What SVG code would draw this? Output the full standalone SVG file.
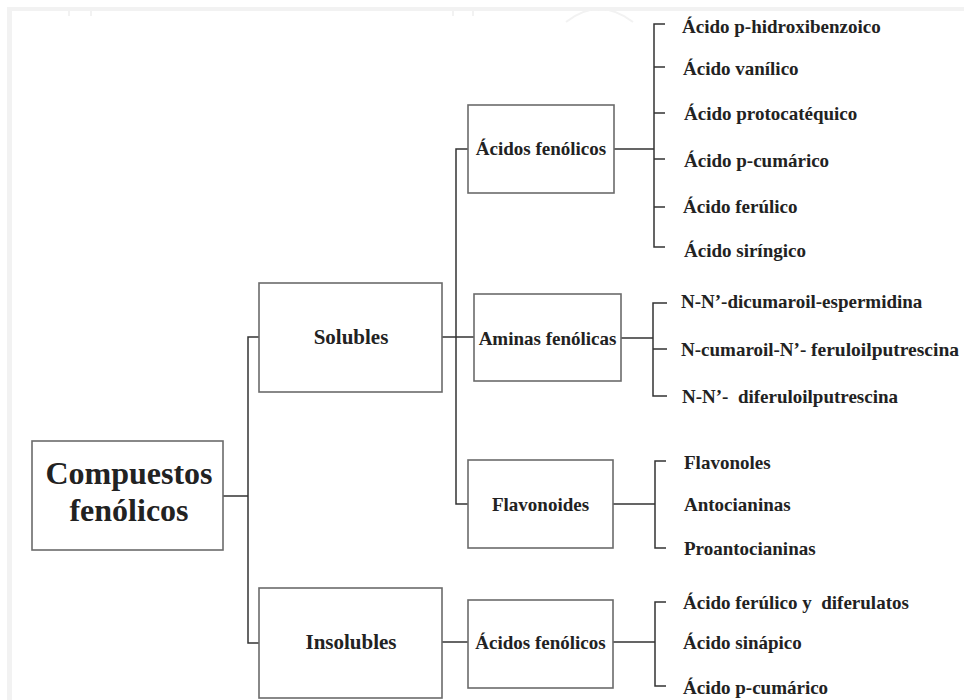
<svg xmlns="http://www.w3.org/2000/svg" width="964" height="700" viewBox="0 0 964 700">
  <style>
    .box { fill: #ffffff; stroke: #6b6b6b; stroke-width: 1.6; }
    .conn { fill: none; stroke: #333333; stroke-width: 1.5; }
    .t { font-family: "Liberation Serif", "Times New Roman", serif; font-weight: bold; fill: #222222; font-size: 19px; white-space: pre; }
    .c { text-anchor: middle; }
    .big { font-size: 32px; }
    .mid { font-size: 21px; }
    .wide { font-size: 19.5px; }
    .faint { fill: #f2f2f2; }
    .faintline { fill: none; stroke: #f2f2f2; stroke-width: 2; }
  </style>
  <rect x="0" y="0" width="964" height="700" fill="#ffffff"/>
  <g id="frame">
    <rect class="faint" x="7" y="7" width="957" height="4"/>
    <rect class="faint" x="7" y="7" width="5" height="693"/>
    <rect class="faint" x="68" y="11" width="2" height="5"/>
    <rect class="faint" x="90" y="11" width="2" height="5"/>
    <rect class="faint" x="452" y="11" width="2" height="5"/>
    <rect class="faint" x="472" y="11" width="2" height="5"/>
    <path class="faintline" d="M566,22 Q599,-4 633,22"/>
  </g>

  <g id="connectors">
    <!-- root to level 1 -->
    <path class="conn" d="M223,496 H248 M259,337 H248 V643 H259"/>
    <!-- Solubles to level 2 -->
    <path class="conn" d="M442,337 H474 M468,149 H456 V504 H468"/>
    <!-- Insolubles to Acidos -->
    <path class="conn" d="M442,642 H468"/>
    <!-- Acidos fenolicos children -->
    <path class="conn" d="M614,149 H654 M665,24 H654 V247 H665 M654,67 H665 M654,113 H665 M654,159 H665 M654,207 H665"/>
    <!-- Aminas children -->
    <path class="conn" d="M621,338 H653 M667,303 H653 V396 H667 M653,349 H667"/>
    <!-- Flavonoides children -->
    <path class="conn" d="M613,504 H655 M666,461 H655 V548 H666"/>
    <!-- Insoluble acidos children -->
    <path class="conn" d="M613,642 H655 M666,602 H655 V686 H666"/>
  </g>

  <g id="n-compuestos">
    <rect class="box" x="32" y="441" width="191" height="109"/>
    <text class="t c big" x="129" y="484">Compuestos</text>
    <text class="t c big" x="129" y="521">fenólicos</text>
  </g>
  <g id="n-solubles">
    <rect class="box" x="259" y="283" width="183" height="109"/>
    <text class="t c mid" x="351" y="344">Solubles</text>
  </g>
  <g id="n-insolubles">
    <rect class="box" x="259" y="588" width="183" height="110"/>
    <text class="t c mid" x="351" y="649">Insolubles</text>
  </g>
  <g id="n-acidos-sol">
    <rect class="box" x="468" y="105" width="146" height="88"/>
    <text class="t c" x="541" y="155">Ácidos fenólicos</text>
  </g>
  <g id="n-aminas">
    <rect class="box" x="474" y="294" width="147" height="87"/>
    <text class="t c" x="547.5" y="345">Aminas fenólicas</text>
  </g>
  <g id="n-flavonoides">
    <rect class="box" x="468" y="460" width="145" height="88"/>
    <text class="t c" x="540.5" y="511">Flavonoides</text>
  </g>
  <g id="n-acidos-insol">
    <rect class="box" x="468" y="600" width="145" height="88"/>
    <text class="t c" x="540.5" y="649">Ácidos fenólicos</text>
  </g>

  <g id="n-acidos-sol-items">
    <text class="t" x="682" y="33">Ácido p-hidroxibenzoico</text>
    <text class="t" x="683" y="75">Ácido vanílico</text>
    <text class="t" x="684" y="120">Ácido protocatéquico</text>
    <text class="t" x="684" y="167">Ácido p-cumárico</text>
    <text class="t" x="683" y="213">Ácido ferúlico</text>
    <text class="t" x="684" y="257">Ácido siríngico</text>
  </g>
  <g id="n-aminas-items">
    <text class="t" x="681" y="308">N-N’-dicumaroil-espermidina</text>
    <text class="t" x="681" y="356">N-cumaroil-N’- <tspan class="wide">feruloilputrescina</tspan></text>
    <text class="t" x="682" y="403">N-N’-  diferuloilputrescina</text>
  </g>
  <g id="n-flavonoides-items">
    <text class="t" x="684" y="469">Flavonoles</text>
    <text class="t" x="684" y="511">Antocianinas</text>
    <text class="t" x="684" y="555">Proantocianinas</text>
  </g>
  <g id="n-acidos-insol-items">
    <text class="t" x="683" y="609">Ácido ferúlico y  diferulatos</text>
    <text class="t" x="683" y="649">Ácido sinápico</text>
    <text class="t" x="683" y="694">Ácido p-cumárico</text>
  </g>
</svg>
